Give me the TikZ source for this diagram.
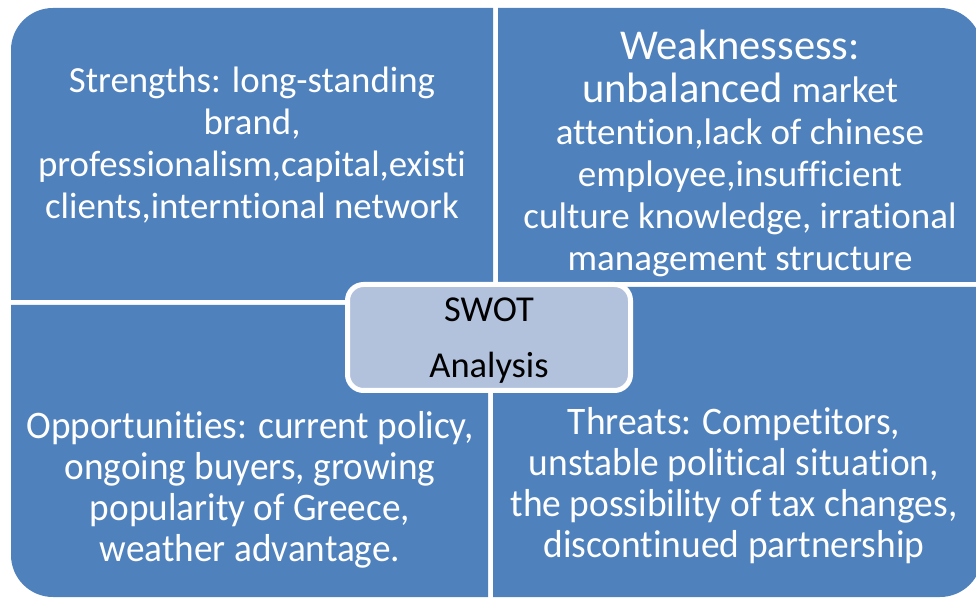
\documentclass[tikz,border=0pt]{standalone}
\usepackage{fontspec}
\setmainfont{Carlito}[Ligatures={NoCommon,NoRequired,NoContextual}]
\definecolor{quad}{RGB}{79,129,189}
\definecolor{centerfill}{RGB}{178,194,221}
\tikzset{
  quadtext/.style={text=white, align=center, inner sep=0pt},
  centerbox/.style={draw=white, line width=5pt, fill=centerfill, rounded corners=16pt,
    minimum width=283pt, minimum height=106pt, inner sep=0pt}
}
\begin{document}
\begin{tikzpicture}[x=1pt,y=1pt]
\useasboundingbox (0,0) rectangle (976,599);
\clip (0,0) rectangle (976,599);
\fill[white] (0,0) rectangle (976,599);
% quadrants
\fill[quad] (493,299) -- (11,299) -- (11,549) arc[start angle=180, end angle=90, radius=42] -- (493,591) -- cycle;
\fill[quad] (498,317) -- (498,591) -- (940,591) arc[start angle=90, end angle=0, radius=42] -- (982,317) -- cycle;
\fill[quad] (488,294) -- (11,294) -- (11,44) arc[start angle=180, end angle=270, radius=42] -- (488,2) -- cycle;
\fill[quad] (493,312) -- (493,2) -- (940,2) arc[start angle=270, end angle=360, radius=42] -- (982,312) -- cycle;
% texts
\node[quadtext, font=\fontsize{36.8}{42}\selectfont] (S) at (252,454)
  {Strengths: long-standing\\ brand,\\ professionalism,capital,existi\\ clients,interntional network};
\node[quadtext, font=\fontsize{37}{42}\selectfont] (W) at (740,446)
  {{\fontsize{42.5}{45}\selectfont Weaknessess:}\\[1pt]
   {\fontsize{42.5}{45}\selectfont unbalanced} market\\
   attention,lack of chinese\\ employee,insufficient\\
   culture knowledge, irrational\\ management structure};
\node[quadtext, font=\fontsize{39}{41}\selectfont] (O) at (250,107)
  {\scalebox{0.955}[1]{\begin{tabular}{@{}c@{}}Opportunities: current policy,\\ ongoing buyers, growing\\ popularity of Greece,\\ weather advantage.\end{tabular}}};
\node[quadtext, font=\fontsize{39}{41}\selectfont] (T) at (734,111)
  {\scalebox{0.96}[1]{\begin{tabular}{@{}c@{}}Threats: Competitors,\\ unstable political situation,\\ the possibility of tax changes,\\ discontinued partnership\end{tabular}}};
% center
\node[centerbox] (C) at (489,261.5) {};
\node[align=center, inner sep=0pt, font=\fontsize{36.5}{56}\selectfont] (CT) at (489,258.5)
  {SWOT\\ Analysis};
\end{tikzpicture}
\end{document}
